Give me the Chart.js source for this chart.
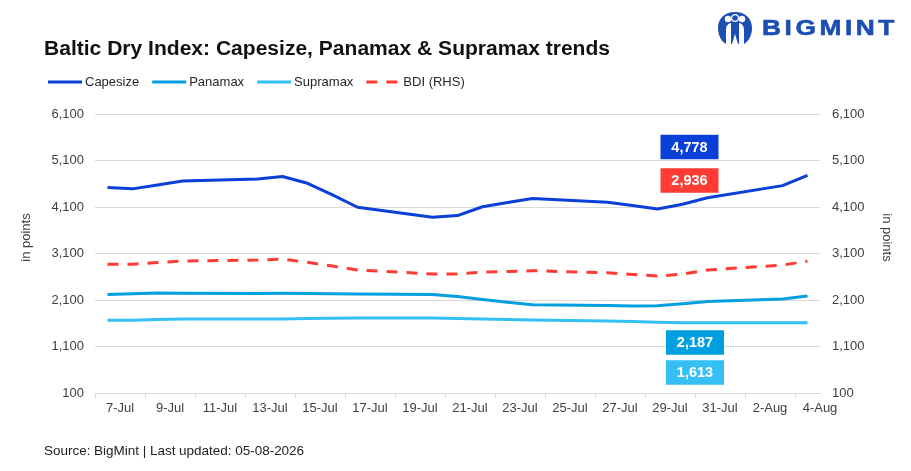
<!DOCTYPE html>
<html>
<head>
<meta charset="utf-8">
<script src="https://cdn.jsdelivr.net/npm/chart.js@4.4.1/dist/chart.umd.min.js"></script>
<style>
  html, body { margin: 0; padding: 0; background: #fff; overflow: hidden; }
  #wrap { position: relative; width: 911px; height: 471px; }
  #c { position: absolute; left: 0; top: 0; }
  .title { position: absolute; left: 44px; top: 37px; font-family: "Liberation Sans", Arial, sans-serif; font-weight: 700; font-size: 19.5px; color: #111; white-space: nowrap; transform-origin: 0 50%; }
  .source { position: absolute; left: 44px; top: 443px; font-family: "Liberation Sans", Arial, sans-serif; font-size: 13.5px; color: #222; white-space: nowrap; }
  .logo { position: absolute; left: 716px; top: 10px; width: 190px; height: 36px; }
  .logo-text { position: absolute; left: 46px; top: 5px; font-family: "Liberation Sans", Arial, sans-serif; font-weight: 700; font-size: 22px; letter-spacing: 3px; color: #1b4fb3; white-space: nowrap; transform-origin: 0 50%; -webkit-text-stroke: 0.6px #1b4fb3; }
</style>
</head>
<body>
<div id="wrap">
  <canvas id="c" width="911" height="471"></canvas>
  <div class="title" id="title">Baltic Dry Index: Capesize, Panamax &amp; Supramax trends</div>
  <div class="source" id="source">Source: BigMint | Last updated: 05-08-2026</div>
  <div class="logo">
    <svg width="38" height="36" viewBox="0 0 38 36" style="position:absolute;left:0;top:0">
      <path d="M19 2 C8 2 2 9 2 18 C2 26 6 32 10 34 L10 20 C10 15 13 13 15 13 L15 34 L23 34 L23 13 C25 13 28 15 28 20 L28 34 C32 32 36 26 36 18 C36 9 30 2 19 2 Z" fill="#1b4fb3"/>
      <circle cx="12" cy="9" r="3.2" fill="#fff"/>
      <circle cx="26" cy="9" r="3.2" fill="#fff"/>
      <circle cx="19" cy="8" r="3.4" fill="#1b4fb3" stroke="#fff" stroke-width="1.2"/>
      <path d="M16 34 L19 24 L22 34 Z" fill="#fff"/>
    </svg>
    <div class="logo-text" id="logoText">BIGMINT</div>
  </div>
</div>
<script>
// ---------- DATA ----------
const categories = ['7-Jul','8-Jul','9-Jul','10-Jul','11-Jul','12-Jul','13-Jul','14-Jul','15-Jul','16-Jul','17-Jul','18-Jul','19-Jul','20-Jul','21-Jul','22-Jul','23-Jul','24-Jul','25-Jul','26-Jul','27-Jul','28-Jul','29-Jul','30-Jul','31-Jul','1-Aug','2-Aug','3-Aug','4-Aug'];
const capesize = [4520,4490,4575,4660,null,null,4700,4755,4610,4360,4095,null,null,3880,3915,4105,4195,4285,null,null,4200,4130,4055,4160,4300,null,null,4560,4778];
const panamax  = [2220,2235,2250,2245,null,null,2240,2245,2240,2235,2230,null,null,2220,2175,2110,2050,2000,null,null,1980,1970,1975,2020,2070,null,null,2120,2187];
const supramax = [1665,1665,1680,1690,null,null,1690,1690,1700,1710,1715,null,null,1715,1700,1690,1680,1670,null,null,1648,1635,1620,1613,1613,null,null,1613,1613];
const bdi      = [2870,2870,2905,2940,null,null,2960,2980,2910,2830,2745,null,null,2660,2660,2700,2715,2730,null,null,2685,2650,2615,2655,2745,null,null,2850,2936];
const yTicks = [100,1100,2100,3100,4100,5100,6100];
const seriesNames = ['Capesize','Panamax','Supramax','BDI (RHS)'];

// ---------- STYLE ----------
const C_CAPE = '#0a3fd8';
const C_PANA = '#009fe0';
const C_SUPRA = '#35c0f5';
const C_BDI = '#ff3b33';
const FONT = '"Liberation Sans", Arial, sans-serif';
const TICK_COLOR = '#404040';
const GRID = '#d9d9d9';

// fit text widths to the reference layout
function fitSpacing(el, target) {
  const n = el.textContent.length;
  const w = el.getBoundingClientRect().width;
  el.style.letterSpacing = ((target - w) / n).toFixed(2) + 'px';
}
function fitScale(el, target) {
  const w = el.getBoundingClientRect().width;
  el.style.transform = 'scaleX(' + (target / w).toFixed(4) + ')';
}
fitScale(document.getElementById('title'), 566);
fitSpacing(document.getElementById('source'), 260);
fitScale(document.getElementById('logoText'), 136);

const fmt = v => Number(v).toLocaleString('en-US');

const legendPlugin = {
  id: 'customLegend',
  afterDraw(chart) {
    const ctx = chart.ctx;
    ctx.save();
    ctx.font = '13px ' + FONT;
    ctx.textBaseline = 'middle';
    let x = 48;
    const y = 82;
    [0, 1, 2, 3].forEach(i => {
      const ds = chart.data.datasets[i];
      ctx.strokeStyle = ds.borderColor;
      ctx.lineWidth = 3;
      ctx.setLineDash(ds.borderDash || []);
      ctx.beginPath();
      ctx.moveTo(x, y);
      ctx.lineTo(x + 34, y);
      ctx.stroke();
      ctx.setLineDash([]);
      x += 37;
      ctx.fillStyle = '#262626';
      ctx.textAlign = 'left';
      ctx.fillText(ds.label, x, y);
      x += ctx.measureText(ds.label).width + 13;
    });
    ctx.restore();
  }
};

const axisTitlePlugin = {
  id: 'axisTitles',
  afterDraw(chart) {
    const ctx = chart.ctx;
    const ya = chart.scales.y;
    const cy = (ya.top + ya.bottom) / 2 - 16;
    ctx.save();
    ctx.font = '13px ' + FONT;
    ctx.fillStyle = '#404040';
    ctx.textAlign = 'center';
    ctx.textBaseline = 'middle';
    ctx.save();
    ctx.translate(26, cy);
    ctx.rotate(-Math.PI / 2);
    ctx.fillText('in points', 0, 0);
    ctx.restore();
    ctx.save();
    ctx.translate(887, cy);
    ctx.rotate(Math.PI / 2);
    ctx.fillText('in points', 0, 0);
    ctx.restore();
    ctx.restore();
  }
};

const boxPlugin = {
  id: 'valueBoxes',
  afterDatasetsDraw(chart) {
    const ctx = chart.ctx;
    const xs = chart.scales.x;
    const ys = chart.scales.y;
    const ref = xs.getPixelForValue(categories.indexOf('30-Jul'));
    const boxes = [
      { data: capesize, color: C_CAPE, yv: 5390, dx: 7 },
      { data: bdi, color: C_BDI, yv: 4670, dx: 7 },
      { data: panamax, color: C_PANA, yv: 1186, dx: 12.5 },
      { data: supramax, color: C_SUPRA, yv: 541, dx: 12.5 }
    ];
    ctx.save();
    ctx.font = 'bold 14.5px ' + FONT;
    ctx.textAlign = 'center';
    ctx.textBaseline = 'middle';
    boxes.forEach(b => {
      const cx = ref + b.dx;
      const cy = ys.getPixelForValue(b.yv);
      const w = 58, h = 24.5;
      ctx.fillStyle = b.color;
      ctx.fillRect(cx - w / 2, cy - h / 2, w, h);
      ctx.fillStyle = '#ffffff';
      const last = b.data[b.data.length - 1];
      ctx.fillText(fmt(last), cx, cy + 0.5);
    });
    ctx.restore();
  }
};

const lineDs = (label, data, color, axis, dash) => ({
  label, data,
  borderColor: color, backgroundColor: color,
  borderWidth: 3, pointRadius: 0, pointHoverRadius: 0,
  tension: 0, spanGaps: true, yAxisID: axis,
  borderDash: dash || [], borderJoinStyle: 'round', borderCapStyle: 'butt'
});

new Chart(document.getElementById('c'), {
  type: 'line',
  data: {
    labels: categories,
    datasets: [
      lineDs(seriesNames[0], capesize, C_CAPE, 'y'),
      lineDs(seriesNames[1], panamax, C_PANA, 'y'),
      lineDs(seriesNames[2], supramax, C_SUPRA, 'y'),
      lineDs(seriesNames[3], bdi, C_BDI, 'y1', [11, 9])
    ]
  },
  options: {
    responsive: false,
    animation: false,
    events: [],
    layout: { padding: { left: 14, right: 14, top: 114, bottom: 54 } },
    plugins: { legend: { display: false }, title: { display: false }, tooltip: { enabled: false } },
    scales: {
      x: {
        type: 'category',
        offset: true,
        grid: {
          offset: true,
          drawOnChartArea: false,
          drawTicks: true,
          tickLength: 5,
          color: c => (c.index % 2 === 0 ? GRID : 'rgba(0,0,0,0)'),
          lineWidth: 1
        },
        border: { display: true, color: GRID, width: 1 },
        ticks: {
          autoSkip: false,
          maxRotation: 0,
          minRotation: 0,
          padding: 3,
          labelOffset: 12.5,
          color: TICK_COLOR,
          font: { family: FONT, size: 13 },
          callback: function(v, i) { return i % 2 === 0 ? categories[i] : ''; }
        },
        afterFit: s => { s.height = 24; }
      },
      y: {
        position: 'left',
        min: 100, max: 6100,
        afterBuildTicks: s => { s.ticks = yTicks.map(v => ({ value: v })); },
        grid: { color: GRID, lineWidth: 1, drawTicks: false },
        border: { display: false },
        ticks: { padding: 11, color: TICK_COLOR, font: { family: FONT, size: 13 }, callback: v => fmt(v) },
        afterFit: s => { s.width = 81; }
      },
      y1: {
        position: 'right',
        min: 100, max: 6100,
        afterBuildTicks: s => { s.ticks = yTicks.map(v => ({ value: v })); },
        grid: { display: false, drawTicks: false },
        border: { display: false },
        ticks: { padding: 12, color: TICK_COLOR, font: { family: FONT, size: 13 }, callback: v => fmt(v) },
        afterFit: s => { s.width = 77; }
      }
    }
  },
  plugins: [legendPlugin, axisTitlePlugin, boxPlugin]
});
</script>
</body>
</html>
